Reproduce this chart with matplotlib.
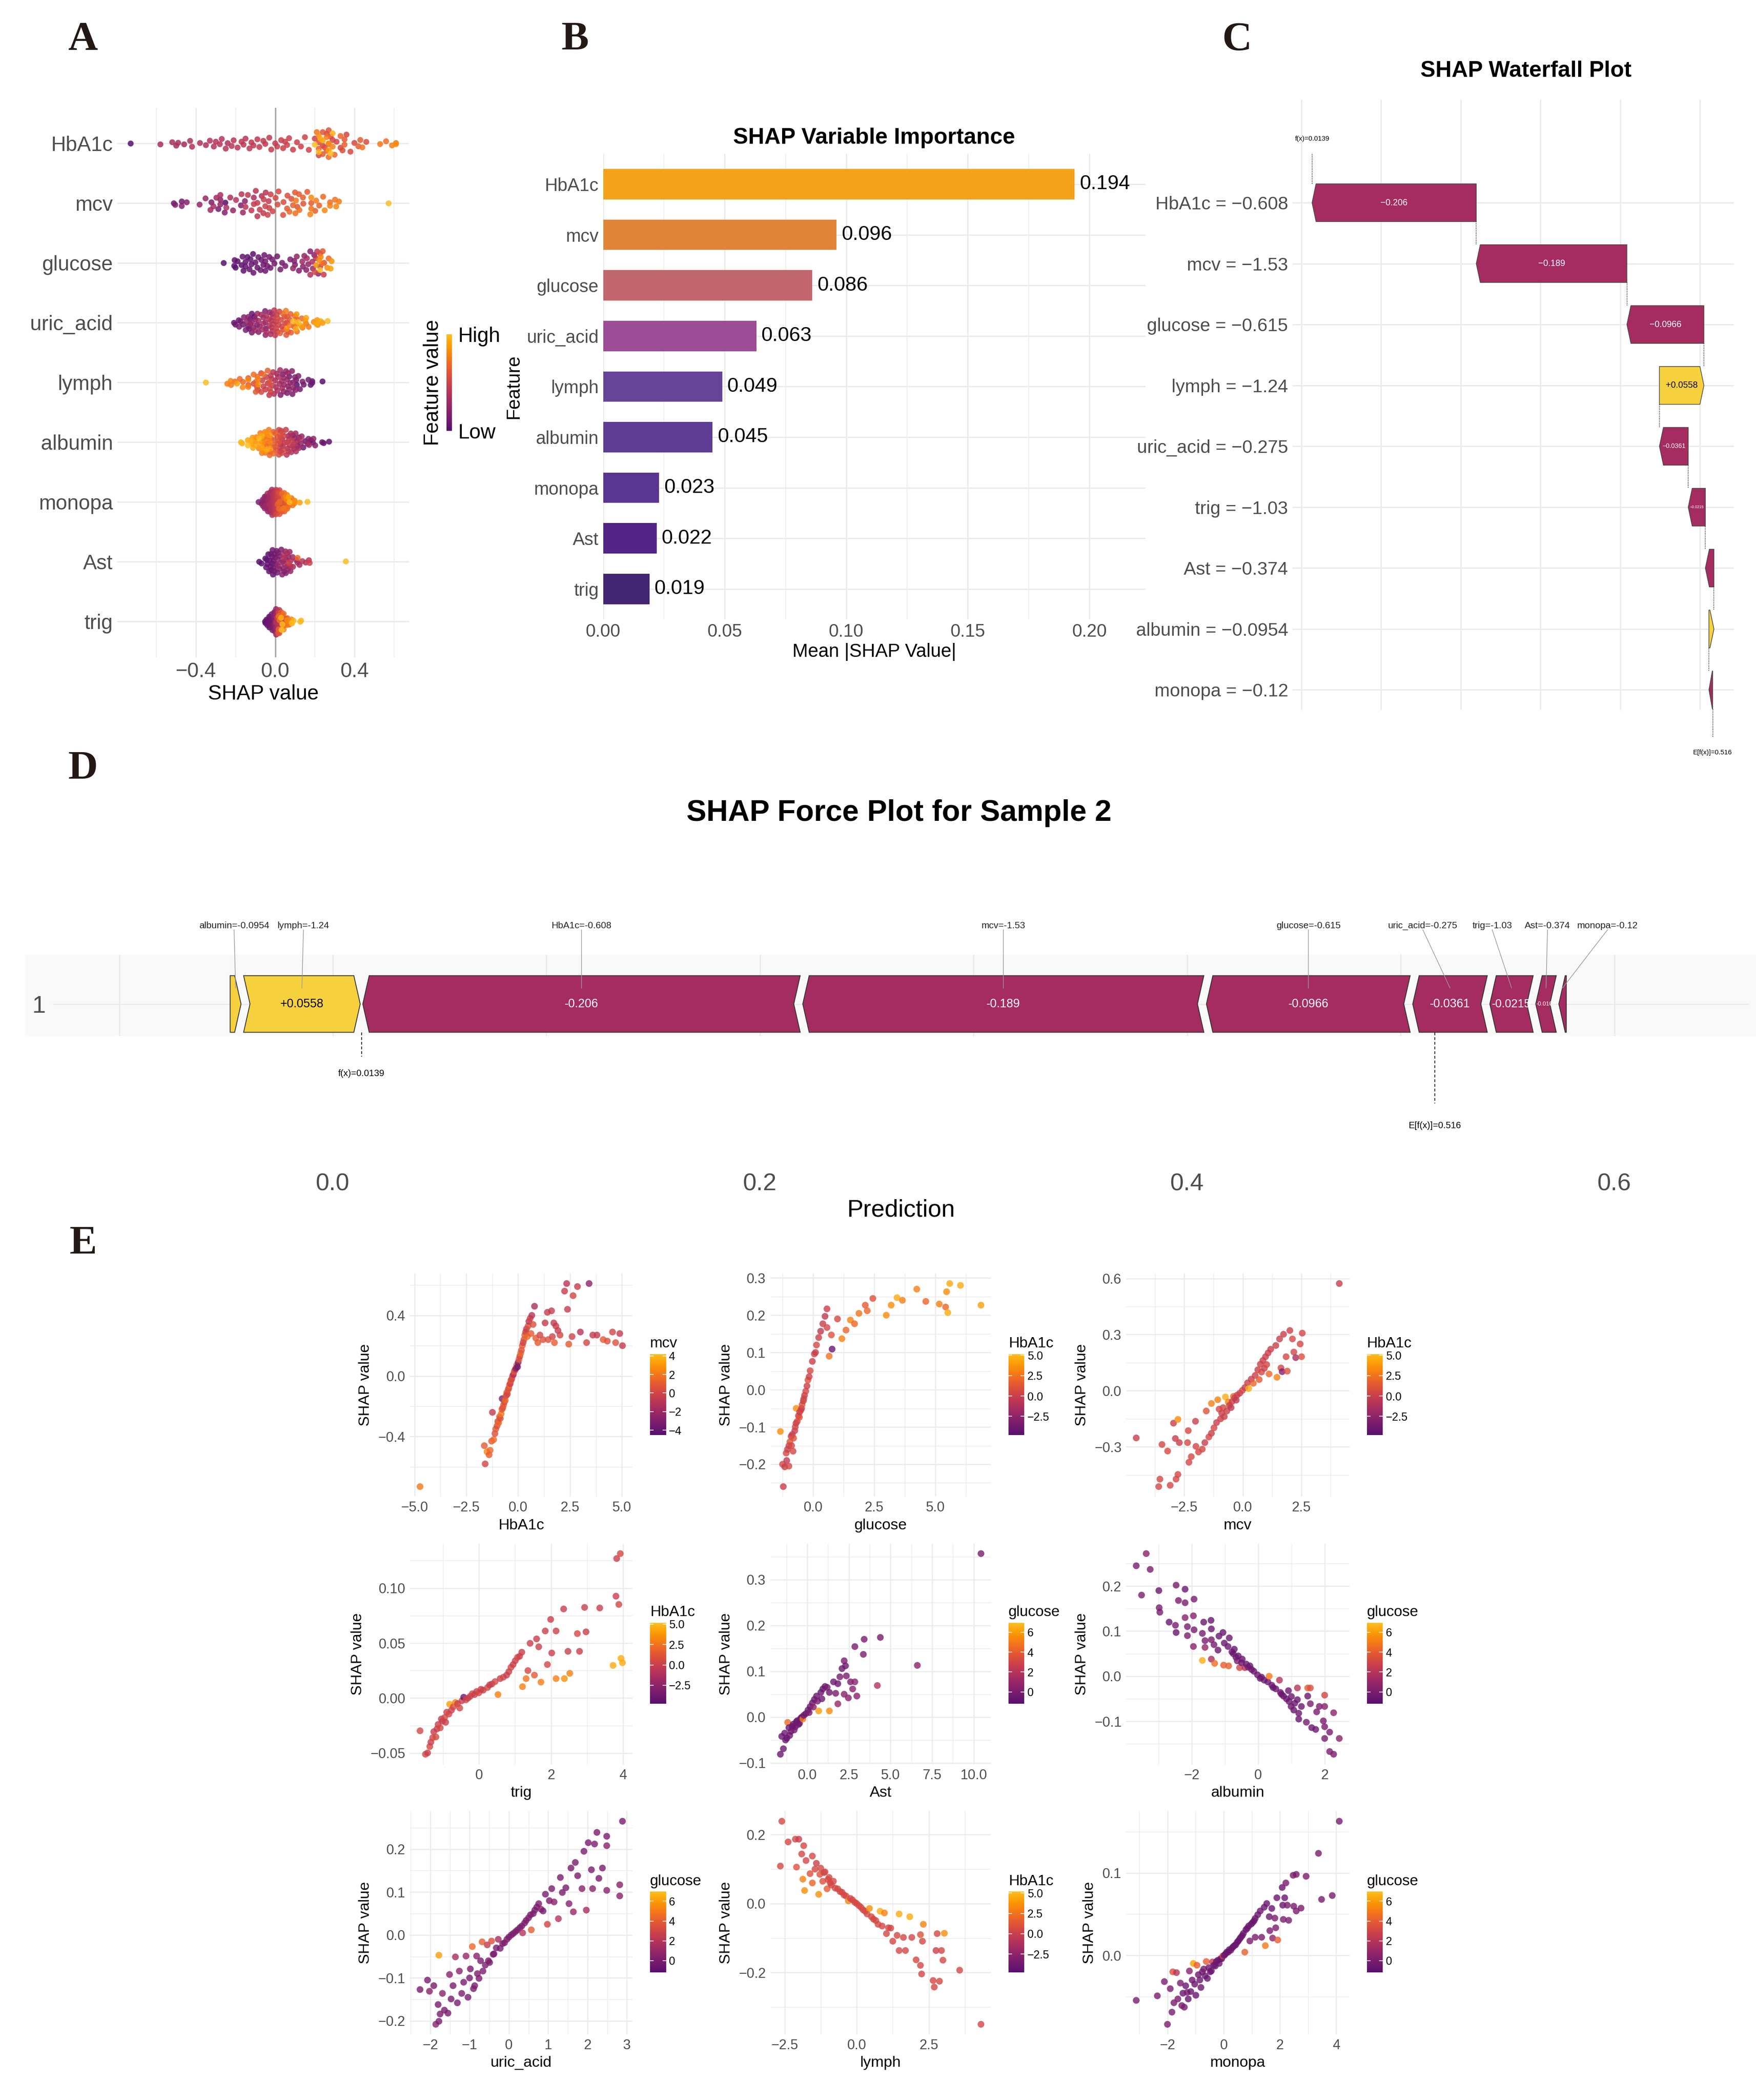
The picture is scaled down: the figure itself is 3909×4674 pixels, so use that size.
import numpy as np
import matplotlib
matplotlib.use("Agg")
import matplotlib.pyplot as plt
from matplotlib.colors import ListedColormap, Normalize
from matplotlib.cm import ScalarMappable
from matplotlib.patches import Polygon, Rectangle

plt.rcParams['font.family'] = ['Liberation Sans', 'DejaVu Sans']

# ---------------- data ----------------
features = ["HbA1c", "mcv", "glucose", "uric_acid", "lymph", "albumin", "monopa", "Ast", "trig"]
mean_abs_shap = [0.194, 0.096, 0.086, 0.063, 0.049, 0.045, 0.023, 0.022, 0.019]
bar_colors = ["#f4a21a", "#e08538", "#c2666e", "#9d4c96", "#664497",
              "#5e3d95", "#583692", "#532385", "#432672"]

# sample 2 (waterfall + force plot), ordered by |SHAP|
wf_features = ["HbA1c", "mcv", "glucose", "lymph", "uric_acid", "trig", "Ast", "albumin", "monopa"]
wf_feature_values = [-0.608, -1.53, -0.615, -1.24, -0.275, -1.03, -0.374, -0.0954, -0.12]
wf_shap = [-0.206, -0.189, -0.0966, 0.0558, -0.0361, -0.0215, -0.0108, 0.0063, -0.0047]
base_value = 0.516
pred_value = 0.0139

# per-feature points: (feature value, SHAP value, value of the colouring feature)
hba1c_pts = [  # colour: mcv
    (-4.73, -0.73, 2.0), (-1.63, -0.46, 1.0), (-1.59, -0.58, 0.0), (-1.50, -0.50, 2.5),
    (-1.40, -0.52, 1.0), (-1.35, -0.49, 1.5), (-1.28, -0.43, 1.0), (-1.24, -0.24, -0.5),
    (-1.18, -0.42, 1.5), (-1.12, -0.38, 0.5), (-1.08, -0.35, 1.0), (-1.02, -0.33, 0.5),
    (-0.98, -0.30, 0.0), (-0.94, -0.31, 1.5), (-0.90, -0.27, 1.0), (-0.86, -0.28, 0.5),
    (-0.82, -0.25, 2.0), (-0.78, -0.22, 1.0), (-0.77, -0.15, -3.0), (-0.74, -0.21, 0.5),
    (-0.70, -0.19, 1.0), (-0.66, -0.17, 0.0), (-0.62, -0.16, 1.5), (-0.58, -0.13, 0.5),
    (-0.55, -0.11, 1.0), (-0.52, -0.12, 0.0), (-0.48, -0.09, 1.0), (-0.45, -0.08, 0.5),
    (-0.42, -0.06, 1.5), (-0.38, -0.05, -0.5), (-0.35, -0.03, 1.0), (-0.31, -0.02, 0.0),
    (-0.27, 0.00, 0.5), (-0.23, 0.01, -1.5), (-0.19, 0.03, 1.0), (-0.15, 0.04, 0.0),
    (-0.11, 0.05, -2.5), (-0.07, 0.07, 0.5), (-0.03, 0.06, -4.0), (0.00, 0.09, -3.0),
    (0.04, 0.11, 1.0), (0.08, 0.13, 0.0), (0.12, 0.15, 1.5), (0.16, 0.17, 0.5),
    (0.20, 0.20, 1.0), (0.24, 0.22, 0.0), (0.28, 0.24, 0.5), (0.32, 0.27, 1.0),
    (0.36, 0.29, 0.0), (0.40, 0.31, -0.5), (0.44, 0.26, 1.5), (0.48, 0.33, 0.5),
    (0.52, 0.36, -1.0), (0.58, 0.38, 0.0), (0.62, 0.28, 1.0), (0.66, 0.40, -1.0),
    (0.72, 0.34, 0.5), (0.79, 0.46, -1.5), (0.85, 0.25, 1.0), (0.95, 0.22, 1.0),
    (1.05, 0.27, 0.0), (1.20, 0.24, 0.5), (1.30, 0.35, -0.5), (1.41, 0.42, -0.5),
    (1.45, 0.24, 0.5), (1.61, 0.43, -0.5), (1.65, 0.26, 0.0), (1.72, 0.35, -0.5),
    (1.75, 0.22, 1.0), (1.82, 0.33, -0.5), (1.92, 0.30, -0.5), (2.02, 0.27, 0.0),
    (2.24, 0.56, -0.5), (2.34, 0.61, -1.0), (2.38, 0.44, -0.5), (2.44, 0.21, 1.0),
    (2.60, 0.26, 0.0), (2.65, 0.53, 0.0), (2.86, 0.59, -0.5), (3.00, 0.29, -1.0),
    (3.30, 0.22, 0.0), (3.42, 0.61, -2.5), (3.60, 0.27, -0.5), (3.80, 0.27, -0.5),
    (4.10, 0.24, 1.0), (4.30, 0.23, 0.5), (4.55, 0.29, 0.0), (4.70, 0.22, 0.5),
    (4.90, 0.28, -0.5), (5.03, 0.20, -0.5),
]
glucose_pts = [  # colour: HbA1c
    (-1.34, -0.112, 3.5), (-1.22, -0.26, 0.0), (-1.25, -0.20, 0.5), (-1.16, -0.207, 0.0),
    (-1.10, -0.17, 0.5), (-1.08, -0.19, -0.5), (-1.05, -0.16, 0.0), (-0.99, -0.205, 0.5),
    (-0.99, -0.15, 0.0), (-0.95, -0.14, 1.0), (-0.90, -0.125, 0.0), (-0.88, -0.15, 0.5),
    (-0.85, -0.12, 0.0), (-0.82, -0.165, 0.5), (-0.80, -0.13, 1.0), (-0.75, -0.11, 0.0),
    (-0.73, -0.10, 0.5), (-0.70, -0.09, 0.0), (-0.69, -0.05, 3.5), (-0.65, -0.085, 0.5),
    (-0.60, -0.07, 0.0), (-0.56, -0.074, 1.0), (-0.55, -0.06, 0.0), (-0.50, -0.055, 0.5),
    (-0.47, -0.05, 0.0), (-0.45, -0.04, 1.0), (-0.40, -0.03, 0.0), (-0.38, -0.024, 0.5),
    (-0.35, -0.015, 0.0), (-0.30, -0.004, 0.5), (-0.25, 0.01, 0.0), (-0.21, 0.026, 1.0),
    (-0.16, 0.035, 0.0), (-0.12, 0.051, 0.5), (-0.03, 0.076, 0.0), (0.05, 0.096, 0.5),
    (0.10, 0.10, 0.0), (0.14, 0.12, 0.5), (0.23, 0.14, 0.0), (0.31, 0.157, -0.5),
    (0.40, 0.177, 0.0), (0.49, 0.197, -0.5), (0.57, 0.217, 0.0), (0.57, 0.167, 0.5),
    (0.66, 0.09, 2.5), (0.75, 0.147, 1.0), (0.78, 0.109, -4.0), (1.00, 0.19, 0.5),
    (1.18, 0.137, 3.0), (1.35, 0.16, 2.0), (1.53, 0.187, 3.0), (1.70, 0.177, 2.0),
    (1.88, 0.205, 2.5), (2.14, 0.227, 1.5), (2.22, 0.212, 2.0), (2.45, 0.245, 1.0),
    (3.00, 0.20, 3.5), (3.20, 0.227, 3.5), (3.44, 0.247, 4.5), (3.66, 0.24, 3.0),
    (4.25, 0.27, 3.0), (4.62, 0.237, 2.0), (5.17, 0.23, 3.0), (5.43, 0.222, 2.0),
    (5.47, 0.263, 3.5), (5.52, 0.207, 4.5), (5.60, 0.285, 4.5), (6.04, 0.28, 4.5),
    (6.88, 0.227, 4.0),
]
mcv_pts = [  # colour: HbA1c
    (-4.55, -0.252, 0.0), (-3.59, -0.512, 0.5), (-3.54, -0.472, 0.5), (-3.45, -0.287, 0.5),
    (-3.21, -0.322, 0.5), (-3.10, -0.505, 0.5), (-2.96, -0.173, 0.0), (-2.88, -0.255, 0.0),
    (-2.85, -0.472, 0.5), (-2.77, -0.447, 0.5), (-2.77, -0.153, 3.5), (-2.71, -0.277, 0.0),
    (-2.36, -0.277, 0.5), (-2.33, -0.213, 0.5), (-2.30, -0.382, 0.5), (-2.20, -0.352, 0.5),
    (-2.02, -0.163, 0.0), (-2.00, -0.297, 0.5), (-1.89, -0.327, 0.5), (-1.73, -0.312, 0.5),
    (-1.62, -0.277, 0.0), (-1.56, -0.108, 1.0), (-1.45, -0.247, 0.5), (-1.34, -0.227, 0.0),
    (-1.34, -0.068, 3.0), (-1.23, -0.198, 0.5), (-1.12, -0.17, 0.0), (-1.07, -0.048, 3.0),
    (-1.01, -0.098, 0.5), (-0.95, -0.15, 0.0), (-0.90, -0.12, 0.0), (-0.84, -0.09, 0.5),
    (-0.79, -0.138, 0.0), (-0.74, -0.033, 4.5), (-0.68, -0.108, 0.0), (-0.62, -0.06, 3.0),
    (-0.57, -0.078, 0.0), (-0.50, -0.09, -0.5), (-0.46, -0.058, 0.0), (-0.40, -0.03, 2.0),
    (-0.35, -0.038, 0.0), (-0.28, -0.05, -0.5), (-0.24, -0.023, 0.0), (-0.13, -0.013, 0.0),
    (-0.02, 0.002, 0.5), (0.09, 0.017, 0.0), (0.20, 0.042, 0.0), (0.25, 0.012, 4.5),
    (0.36, 0.062, 0.0), (0.45, 0.04, 2.0), (0.53, 0.082, 0.0), (0.64, 0.112, 0.0),
    (0.70, 0.06, 1.5), (0.75, 0.142, 0.0), (0.80, 0.10, 0.5), (0.86, 0.162, 0.0),
    (0.92, 0.12, 0.0), (0.97, 0.182, 0.0), (1.02, 0.14, 0.5), (1.08, 0.202, 0.0),
    (1.12, 0.09, 2.0), (1.19, 0.222, 0.0), (1.41, 0.242, 0.0), (1.46, 0.072, 3.0),
    (1.57, 0.277, 0.0), (1.63, 0.122, 0.5), (1.68, 0.102, -3.0), (1.74, 0.302, 0.0),
    (1.85, 0.182, 0.5), (1.90, 0.105, 1.0), (2.01, 0.322, 0.0), (2.12, 0.277, 0.5),
    (2.18, 0.207, 0.5), (2.26, 0.177, -1.5), (2.45, 0.25, 0.5), (2.51, 0.182, 1.0),
    (2.54, 0.308, 0.5), (4.12, 0.573, 0.0),
]
trig_pts = [  # colour: HbA1c
    (-1.63, -0.0297, 0.5), (-1.48, -0.051, 0.5), (-1.42, -0.0498, 0.0), (-1.36, -0.044, 0.5),
    (-1.33, -0.040, 0.0), (-1.28, -0.036, 0.5), (-1.25, -0.0305, 0.0), (-1.19, -0.0353, 0.5),
    (-1.16, -0.028, 0.0), (-1.13, -0.024, 0.0), (-1.07, -0.027, 0.5), (-1.04, -0.019, 0.0),
    (-1.01, -0.021, 0.0), (-0.95, -0.0177, 0.5), (-0.92, -0.022, 0.0), (-0.89, -0.0128, 0.0),
    (-0.83, -0.0145, 0.5), (-0.81, -0.0056, 4.0), (-0.76, -0.011, 0.0), (-0.71, -0.008, 0.5),
    (-0.65, -0.004, 3.0), (-0.59, -0.005, 0.0), (-0.53, -0.009, 0.5), (-0.47, -0.0024, 0.0),
    (-0.42, 0.0008, -4.0), (-0.36, -0.0016, 0.5), (-0.30, 0.0, 0.0), (-0.24, 0.0016, 0.0),
    (-0.18, 0.004, 0.5), (-0.12, 0.0032, 0.0), (-0.06, 0.006, 0.0), (0.00, 0.0048, 0.5),
    (0.06, 0.008, 0.0), (0.12, 0.0072, 0.0), (0.24, 0.0096, 0.5), (0.30, 0.012, 0.0),
    (0.36, 0.0128, 0.0), (0.45, 0.015, 0.5), (0.53, 0.0032, 3.0), (0.59, 0.0177, 0.0),
    (0.68, 0.019, 0.5), (0.77, 0.0209, 0.0), (0.83, 0.024, 0.0), (0.89, 0.028, 0.5),
    (0.95, 0.0305, 0.0), (1.01, 0.034, 0.0), (1.07, 0.037, 0.5), (1.13, 0.038, 0.0),
    (1.19, 0.0417, 0.0), (1.21, 0.0104, 3.0), (1.31, 0.0177, 2.5), (1.36, 0.025, 0.5),
    (1.42, 0.0498, 0.0), (1.54, 0.0209, 1.5), (1.60, 0.0538, 0.0), (1.66, 0.0466, 0.0),
    (1.72, 0.0145, 3.0), (1.84, 0.061, 0.0), (1.90, 0.0305, 0.5), (1.99, 0.0715, 0.0),
    (2.02, 0.041, 0.0), (2.14, 0.061, 0.0), (2.14, 0.0177, 3.0), (2.35, 0.081, 0.0),
    (2.37, 0.0177, 3.5), (2.47, 0.0425, 0.0), (2.52, 0.0225, 3.0), (2.73, 0.0586, 0.5),
    (2.79, 0.0425, 0.0), (2.93, 0.0824, 0.0), (2.97, 0.0602, 0.0), (3.35, 0.0819, 0.0),
    (3.72, 0.0297, 4.5), (3.80, 0.0926, 0.0), (3.82, 0.1268, 0.0), (3.88, 0.0851, 0.5),
    (3.92, 0.1313, 0.5), (3.94, 0.0361, 4.5), (3.98, 0.0321, 4.5),
]
ast_pts = [  # colour: glucose
    (-1.61, -0.081, -0.5), (-1.53, -0.042, -0.5), (-1.43, -0.069, -0.5), (-1.35, -0.035, -0.5),
    (-1.30, -0.05, -0.5), (-1.22, -0.046, -0.5), (-1.17, -0.0115, 4.5), (-1.10, -0.023, -0.5),
    (-1.05, -0.04, -0.5), (-0.97, -0.031, -0.5), (-0.90, -0.02, -0.5), (-0.84, -0.0154, -0.5),
    (-0.78, -0.028, 0.0), (-0.71, -0.021, -0.5), (-0.65, -0.01, -0.5), (-0.59, -0.0077, -0.5),
    (-0.52, -0.016, 0.0), (-0.46, -0.0135, -0.5), (-0.40, -0.003, -0.5), (-0.33, 0.0, -0.5),
    (-0.26, -0.004, 5.0), (-0.20, 0.004, -0.5), (-0.08, 0.0077, -0.5), (0.05, 0.0154, -0.5),
    (0.12, 0.01, 0.0), (0.18, 0.023, -0.5), (0.31, 0.031, -0.5), (0.37, 0.022, 0.5),
    (0.43, 0.0385, -0.5), (0.56, 0.046, -0.5), (0.62, 0.035, 0.0), (0.69, 0.0135, 6.0),
    (0.82, 0.054, -0.5), (0.88, 0.04, -0.5), (0.94, 0.0615, -0.5), (1.07, 0.067, -0.5),
    (1.20, 0.065, 0.0), (1.33, 0.0135, 5.5), (1.33, 0.054, -0.5), (1.58, 0.077, -0.5),
    (1.71, 0.052, 0.0), (1.84, 0.029, 1.0), (1.84, 0.073, -0.5), (1.96, 0.088, 0.0),
    (2.09, 0.106, -0.5), (2.22, 0.123, 0.0), (2.22, 0.05, 0.5), (2.30, 0.112, -0.5),
    (2.35, 0.090, 0.0), (2.47, 0.042, 0.5), (2.60, 0.077, 0.0), (2.73, 0.0615, 0.5),
    (2.86, 0.154, 0.0), (2.86, 0.077, 0.5), (2.98, 0.046, 0.5), (3.37, 0.137, 0.0),
    (3.42, 0.170, 0.0), (4.21, 0.069, 2.0), (4.39, 0.174, 0.0), (6.61, 0.113, 0.5),
    (10.43, 0.357, 0.0),
]
albumin_pts = [  # colour: glucose
    (-3.67, 0.245, 0.0), (-3.37, 0.272, 0.5), (-3.25, 0.237, 0.0), (-3.51, 0.18, 0.0),
    (-2.99, 0.19, -0.5), (-2.98, 0.152, 0.0), (-2.96, 0.142, 0.0), (-2.68, 0.12, -0.5),
    (-2.49, 0.113, 0.0), (-2.47, 0.097, -0.5), (-2.47, 0.202, 0.0), (-2.40, 0.168, 0.0),
    (-2.20, 0.193, -0.5), (-2.20, 0.163, 0.0), (-2.20, 0.130, 0.5), (-2.13, 0.11, 0.0),
    (-2.13, 0.09, 0.0), (-1.93, 0.171, 0.0), (-1.95, 0.134, 0.5), (-1.93, 0.103, 0.0),
    (-1.95, 0.066, 0.5), (-1.68, 0.095, 0.0), (-1.68, 0.035, 6.5), (-1.64, 0.12, -0.5),
    (-1.60, 0.079, 0.0), (-1.60, 0.064, 1.0), (-1.42, 0.124, -0.5), (-1.41, 0.105, -0.5),
    (-1.41, 0.081, 0.0), (-1.41, 0.038, 1.5), (-1.31, 0.0285, 4.5), (-1.33, 0.07, 0.0),
    (-1.21, 0.058, -0.5), (-1.18, 0.089, -0.5), (-1.06, 0.097, -0.5), (-1.04, 0.0246, 4.0),
    (-1.02, 0.0735, -0.5), (-0.91, 0.066, -0.5), (-0.89, 0.023, 4.0), (-0.87, 0.085, -0.5),
    (-0.79, 0.054, -0.5), (-0.75, 0.05, -0.5), (-0.72, 0.06, -0.5), (-0.67, 0.042, -0.5),
    (-0.63, 0.034, 0.0), (-0.60, 0.045, -0.5), (-0.56, 0.019, 3.0), (-0.50, 0.03, -0.5),
    (-0.48, 0.038, -0.5), (-0.40, 0.019, 2.0), (-0.36, 0.027, -0.5), (-0.30, 0.02, 0.0),
    (-0.25, 0.023, -0.5), (-0.20, 0.015, -0.5), (-0.13, 0.011, -0.5), (-0.02, 0.003, -0.5),
    (0.06, -0.0047, -0.5), (0.10, -0.002, -0.5), (0.18, -0.0086, -0.5), (0.29, -0.0125, -0.5),
    (0.33, 0.0, 5.0), (0.41, -0.020, -0.5), (0.45, -0.025, -0.5), (0.53, -0.028, -0.5),
    (0.64, -0.0086, 2.0), (0.67, -0.036, -0.5), (0.70, -0.04, -0.5), (0.76, -0.044, -0.5),
    (0.85, -0.05, -0.5), (0.91, -0.032, -0.5), (0.93, -0.056, -0.5), (0.99, -0.067, -0.5),
    (1.00, -0.045, -0.5), (1.07, -0.075, -0.5), (1.10, -0.06, -0.5), (1.18, -0.026, 2.0),
    (1.18, -0.052, -0.5), (1.22, -0.082, -0.5), (1.22, -0.095, -0.5), (1.30, -0.067, -0.5),
    (1.45, -0.102, 0.0), (1.49, -0.026, 4.0), (1.57, -0.026, 3.5), (1.49, -0.044, -0.5),
    (1.57, -0.061, 0.0), (1.61, -0.114, -0.5), (1.73, -0.118, -0.5), (1.76, -0.079, 0.0),
    (1.84, -0.067, 0.0), (1.96, -0.099, 0.0), (2.00, -0.042, 3.0), (2.00, -0.067, 0.5),
    (2.00, -0.112, 0.0), (2.00, -0.138, 0.0), (2.15, -0.124, 0.0), (2.15, -0.167, 0.0),
    (2.27, -0.081, 0.5), (2.27, -0.173, 0.0), (2.44, -0.138, 0.5),
]
uric_acid_pts = [  # colour: glucose
    (-2.26, -0.127, 0.0), (-2.07, -0.105, 0.0), (-2.02, -0.131, 0.5), (-1.91, -0.118, 0.0),
    (-1.86, -0.208, 0.5), (-1.80, -0.162, 0.0), (-1.78, -0.201, 0.0), (-1.78, -0.047, 6.0),
    (-1.75, -0.184, 0.0), (-1.69, -0.136, 0.5), (-1.64, -0.175, 0.0), (-1.55, -0.182, 0.0),
    (-1.51, -0.092, 0.5), (-1.47, -0.149, 0.0), (-1.42, -0.118, 0.0), (-1.36, -0.051, 1.5),
    (-1.31, -0.158, 0.0), (-1.26, -0.084, 0.5), (-1.20, -0.136, 0.0), (-1.15, -0.110, 0.0),
    (-1.09, -0.049, 1.0), (-1.04, -0.145, 0.0), (-1.00, -0.10, 0.0), (-0.98, -0.079, 0.0),
    (-0.93, -0.027, 4.5), (-0.90, -0.125, 0.0), (-0.87, -0.118, 0.0), (-0.82, -0.049, 0.5),
    (-0.80, -0.09, 0.0), (-0.76, -0.101, 0.0), (-0.72, -0.06, 0.0), (-0.68, -0.016, 4.0),
    (-0.66, -0.084, 0.0), (-0.60, -0.07, 0.0), (-0.55, -0.023, 2.5), (-0.52, -0.06, 0.0),
    (-0.49, -0.064, 0.0), (-0.44, -0.014, 3.5), (-0.40, -0.045, 0.0), (-0.38, -0.044, 0.0),
    (-0.32, -0.03, 0.0), (-0.27, -0.010, 1.5), (-0.22, -0.031, 0.0), (-0.16, -0.02, 0.0),
    (-0.11, -0.018, 0.0), (-0.05, -0.01, 0.0), (0.00, -0.005, 0.0), (0.06, 0.0, 0.0),
    (0.11, 0.0035, 0.0), (0.17, 0.008, 0.0), (0.22, 0.012, 0.0), (0.28, 0.017, 0.0),
    (0.33, 0.021, 0.0), (0.35, 0.005, 2.0), (0.40, 0.028, 0.0), (0.44, 0.034, 0.0),
    (0.50, 0.04, 0.0), (0.55, 0.047, 0.0), (0.57, 0.012, 4.0), (0.62, 0.05, 0.0),
    (0.66, 0.058, 0.0), (0.71, 0.065, 0.0), (0.76, 0.073, 0.0), (0.82, 0.06, 0.5),
    (0.87, 0.056, 0.0), (0.93, 0.095, 0.0), (0.98, 0.025, 3.0), (1.03, 0.08, 0.0),
    (1.09, 0.108, 0.0), (1.15, 0.077, 0.5), (1.26, 0.038, 2.0), (1.31, 0.134, 0.0),
    (1.36, 0.099, 0.0), (1.45, 0.11, 0.0), (1.53, 0.073, 0.5), (1.58, 0.156, 0.0),
    (1.64, 0.054, 1.0), (1.69, 0.169, 0.0), (1.75, 0.138, 0.0), (1.86, 0.108, 0.5),
    (1.91, 0.195, 0.0), (1.97, 0.058, 1.5), (2.02, 0.215, 0.0), (2.10, 0.152, 0.0),
    (2.13, 0.108, 0.5), (2.18, 0.212, 0.0), (2.24, 0.239, 0.0), (2.29, 0.132, 0.0),
    (2.38, 0.156, 0.0), (2.49, 0.230, 0.0), (2.49, 0.208, 0.5), (2.49, 0.104, 0.5),
    (2.82, 0.117, 0.5), (2.82, 0.091, 0.5), (2.89, 0.265, 0.0),
]
lymph_pts = [  # colour: HbA1c
    (-2.65, 0.109, 0.5), (-2.60, 0.239, 0.5), (-2.38, 0.179, 0.5), (-2.13, 0.187, 0.5),
    (-2.09, 0.106, 1.0), (-2.01, 0.187, 0.0), (-1.91, 0.144, 0.5), (-1.87, 0.071, 3.0),
    (-1.84, 0.168, 0.5), (-1.81, 0.038, 3.5), (-1.76, 0.125, 0.5), (-1.62, 0.087, 1.0),
    (-1.54, 0.138, 0.5), (-1.54, 0.060, 2.0), (-1.45, 0.10, 0.5), (-1.40, 0.117, 0.0),
    (-1.32, 0.027, 3.5), (-1.28, 0.085, 1.0), (-1.25, 0.103, 0.5), (-1.18, 0.065, 1.0),
    (-1.14, 0.09, 0.5), (-1.10, 0.092, 0.5), (-1.03, 0.043, 1.5), (-1.00, 0.07, 0.5),
    (-0.96, 0.076, 0.5), (-0.92, 0.06, 0.5), (-0.88, 0.054, 0.5), (-0.81, 0.065, 0.5),
    (-0.75, 0.045, 0.5), (-0.66, 0.043, 0.5), (-0.58, 0.035, 0.5), (-0.51, 0.033, 0.5),
    (-0.44, 0.025, 0.5), (-0.37, 0.022, 0.5), (-0.29, 0.008, 3.0), (-0.22, 0.015, 0.5),
    (-0.15, 0.011, 0.5), (-0.07, 0.004, 0.5), (0.00, 0.0, 0.5), (0.08, -0.006, 0.5),
    (0.15, -0.011, 0.5), (0.22, -0.018, 0.5), (0.29, -0.022, 0.5), (0.36, -0.03, 0.5),
    (0.44, -0.014, 3.5), (0.51, -0.038, 0.5), (0.58, -0.045, 0.5), (0.66, -0.049, 0.5),
    (0.74, -0.06, 0.5), (0.81, -0.022, 4.5), (0.88, -0.065, 0.5), (0.96, -0.027, 3.0),
    (1.03, -0.087, 0.5), (1.10, -0.07, 0.5), (1.18, -0.071, 0.5), (1.25, -0.109, 0.5),
    (1.40, -0.092, 0.5), (1.47, -0.030, 4.5), (1.47, -0.136, 0.5), (1.62, -0.098, 0.5),
    (1.69, -0.136, 0.5), (1.84, -0.038, 4.5), (1.91, -0.098, 0.5), (2.06, -0.163, 0.5),
    (2.21, -0.179, 0.5), (2.21, -0.090, 1.0), (2.25, -0.204, 0.5), (2.28, -0.109, 0.5),
    (2.31, -0.060, 3.0), (2.65, -0.223, 0.5), (2.69, -0.242, 0.5), (2.75, -0.136, 0.0),
    (2.79, -0.087, 0.5), (2.87, -0.225, 0.5), (2.94, -0.136, 0.5), (2.99, -0.164, 0.5),
    (3.04, -0.086, 3.5), (3.57, -0.193, 0.5), (4.31, -0.350, 0.5),
]
monopa_pts = [  # colour: glucose
    (-3.11, -0.0547, 0.0), (-2.36, -0.0492, 0.0), (-2.11, -0.0319, 0.0), (-2.00, -0.0838, 0.0),
    (-1.90, -0.0405, 0.0), (-1.84, -0.069, 0.0), (-1.81, -0.020, 3.5), (-1.77, -0.0576, 0.0),
    (-1.68, -0.021, 2.0), (-1.63, -0.053, 0.0), (-1.54, -0.0337, 0.0), (-1.49, -0.061, 0.0),
    (-1.45, -0.046, -0.5), (-1.40, -0.063, 0.0), (-1.35, -0.037, -0.5), (-1.30, -0.045, 0.0),
    (-1.26, -0.053, -0.5), (-1.22, -0.019, 0.5), (-1.17, -0.044, -0.5), (-1.12, -0.03, -0.5),
    (-1.08, -0.0098, 6.0), (-1.03, -0.035, -0.5), (-0.99, -0.0485, -0.5), (-0.95, -0.012, 4.0),
    (-0.90, -0.0235, -0.5), (-0.85, -0.03, -0.5), (-0.81, -0.039, -0.5), (-0.76, -0.02, -0.5),
    (-0.71, -0.0166, 0.0), (-0.66, -0.025, -0.5), (-0.62, -0.0075, 4.0), (-0.58, -0.028, -0.5),
    (-0.53, -0.015, -0.5), (-0.48, -0.02, -0.5), (-0.44, -0.019, -0.5), (-0.40, -0.008, 2.5),
    (-0.35, -0.012, -0.5), (-0.30, -0.013, -0.5), (-0.26, -0.0075, -0.5), (-0.21, -0.006, -0.5),
    (-0.16, -0.0098, -0.5), (-0.11, -0.004, -0.5), (-0.07, -0.0041, -0.5), (-0.03, -0.0007, 3.0),
    (0.02, 0.0, -0.5), (0.06, 0.0016, -0.5), (0.11, 0.004, -0.5), (0.16, 0.0039, -0.5),
    (0.20, 0.007, -0.5), (0.25, 0.0062, -0.5), (0.30, 0.009, -0.5), (0.34, 0.0107, -0.5),
    (0.39, 0.012, -0.5), (0.43, 0.013, -0.5), (0.48, 0.016, -0.5), (0.52, 0.0175, -0.5),
    (0.57, 0.02, -0.5), (0.61, 0.022, -0.5), (0.66, 0.024, -0.5), (0.70, 0.0267, -0.5),
    (0.75, 0.0039, 4.0), (0.79, 0.0312, -0.5), (0.84, 0.033, -0.5), (0.89, 0.0358, -0.5),
    (0.93, 0.0175, 0.0), (0.98, 0.038, -0.5), (1.03, 0.040, -0.5), (1.08, 0.042, -0.5),
    (1.12, 0.0449, -0.5), (1.12, 0.022, 0.0), (1.21, 0.0494, -0.5), (1.30, 0.054, -0.5),
    (1.35, 0.022, 0.0), (1.44, 0.0585, -0.5), (1.48, 0.0118, 5.0), (1.53, 0.063, -0.5),
    (1.62, 0.047, -0.5), (1.64, 0.030, 0.0), (1.71, 0.057, -0.5), (1.74, 0.021, 0.5),
    (1.82, 0.0453, 0.0), (1.85, 0.0335, 0.0), (1.89, 0.070, -0.5), (1.92, 0.0187, 4.0),
    (2.08, 0.0825, -0.5), (2.10, 0.061, -0.5), (2.12, 0.0437, 0.0), (2.17, 0.070, -0.5),
    (2.21, 0.088, 0.0), (2.26, 0.061, 0.0), (2.31, 0.0426, 0.0), (2.47, 0.0973, 0.0),
    (2.49, 0.0597, 0.0), (2.58, 0.0984, 0.0), (2.58, 0.054, 0.0), (2.75, 0.0574, 0.0),
    (2.93, 0.0961, 0.0), (3.37, 0.124, 0.0), (3.48, 0.068, 0.0), (3.86, 0.0727, 0.0),
    (4.11, 0.163, 0.0),
]

dep_points = {"HbA1c": hba1c_pts, "glucose": glucose_pts, "mcv": mcv_pts,
              "trig": trig_pts, "Ast": ast_pts, "albumin": albumin_pts,
              "uric_acid": uric_acid_pts, "lymph": lymph_pts, "monopa": monopa_pts}
dep_layout = [("HbA1c", "mcv"), ("glucose", "HbA1c"), ("mcv", "HbA1c"),
              ("trig", "HbA1c"), ("Ast", "glucose"), ("albumin", "glucose"),
              ("uric_acid", "glucose"), ("lymph", "HbA1c"), ("monopa", "glucose")]
color_range = {"mcv": (-4.5, 4.2), "HbA1c": (-4.77, 5.16), "glucose": (-1.2, 6.95)}
color_ticks = {"mcv": [-4, -2, 0, 2, 4], "HbA1c": [-2.5, 0, 2.5, 5.0], "glucose": [0, 2, 4, 6]}
color_fmt = {"mcv": "%d", "HbA1c": "%.1f", "glucose": "%d"}
x_ticks = {"HbA1c": [-5, -2.5, 0, 2.5, 5], "glucose": [0, 2.5, 5], "mcv": [-2.5, 0, 2.5],
           "trig": [0, 2, 4], "Ast": [0, 2.5, 5, 7.5, 10], "albumin": [-2, 0, 2],
           "uric_acid": [-2, -1, 0, 1, 2, 3], "lymph": [-2.5, 0, 2.5], "monopa": [-2, 0, 2, 4]}
x_fmt = {"HbA1c": "%.1f", "glucose": "%.1f", "mcv": "%.1f", "trig": "%d", "Ast": "%.1f",
         "albumin": "%d", "uric_acid": "%d", "lymph": "%.1f", "monopa": "%d"}
y_ticks = {"HbA1c": [-0.4, 0, 0.4], "glucose": [-0.2, -0.1, 0, 0.1, 0.2, 0.3],
           "mcv": [-0.3, 0, 0.3, 0.6], "trig": [-0.05, 0, 0.05, 0.10],
           "Ast": [-0.1, 0, 0.1, 0.2, 0.3], "albumin": [-0.1, 0, 0.1, 0.2],
           "uric_acid": [-0.2, -0.1, 0, 0.1, 0.2], "lymph": [-0.2, 0, 0.2], "monopa": [0, 0.1]}

# ---------------- helpers ----------------
W0, H0 = 1313.0, 1570.0          # layout grid of the reference page
FIG_W, FIG_H = 3909 / 300, 4674 / 300
GRID = "#ebebeb"
TXT = "#4d4d4d"
NEG, POS = "#a52c60", "#f7d13d"
cmap = ListedColormap(plt.cm.inferno(np.linspace(0.25, 0.85, 256)))


def box(x0, y0, x1, y1):
    return [x0 / W0, 1 - y1 / H0, (x1 - x0) / W0, (y1 - y0) / H0]


def fmt(f, v):
    return (f % v).replace("-", "\u2212")


def minimal(ax, size, pad=2.4):
    for s in ax.spines.values():
        s.set_visible(False)
    ax.tick_params(which="both", length=0, labelsize=size, labelcolor=TXT, pad=pad)
    ax.set_facecolor("none")
    ax.set_axisbelow(True)


def mids(major, lo, hi):
    step = major[1] - major[0]
    cand = np.arange(major[0] - step / 2, major[-1] + step, step)
    return [c for c in cand if lo <= c <= hi]


def van_der_corput(n, base=2):
    seq = []
    for k in range(1, n + 1):
        x, denom = 0.0, 1.0
        while k:
            k, r = divmod(k, base)
            denom *= base
            x += r / denom
        seq.append(x)
    return np.array(seq)


def bee_offsets(v, half=0.23, adjust=0.8):
    v = np.asarray(v, float)
    n = len(v)
    q75, q25 = np.percentile(v, [75, 25])
    bw = 0.9 * min(v.std(ddof=1), (q75 - q25) / 1.34) * n ** -0.2 * adjust
    dens = np.exp(-0.5 * ((v[:, None] - v[None, :]) / bw) ** 2).sum(axis=1)
    dens = dens / dens.max()
    ranks = np.argsort(np.argsort(v, kind="stable"))
    return (2 * van_der_corput(n)[ranks] - 1) * half * dens


def text_em(s):
    w = {".": 0.278, "-": 0.333, "+": 0.584, "\u2212": 0.584}
    return sum(w.get(ch, 0.556) for ch in s)


def pt_per_unit(ax):
    pos = ax.get_position()
    lo, hi = ax.get_xlim()
    return pos.width * FIG_W * 72 / (hi - lo)


def arrow_poly(a, b, y, half, head, direction, notch=False, flat=False):
    """bar between a<b at height y; direction +1 points right, -1 points left"""
    head = min(head, (b - a) * 0.9)
    top, bot = y + half, y - half
    if direction > 0:
        left_mid = a if (flat or not notch) else a + head
        return [(a, top), (b - head, top), (b, y), (b - head, bot), (a, bot), (left_mid, y)]
    right_mid = b if (flat or not notch) else b - head
    return [(a + head, top), (b, top), (right_mid, y), (b, bot), (a + head, bot), (a, y)]


fig = plt.figure(figsize=(FIG_W, FIG_H), dpi=300)
fig.patch.set_facecolor("white")

for letter, (lx, ly) in zip("ABCDE", [(62, 30), (430, 30), (925, 30), (62, 575), (62, 930)]):
    fig.text(lx / W0, 1 - ly / H0, letter, family="Liberation Serif", weight="bold",
             fontsize=22, color="#231815", ha="center", va="center")

# ---------------- A: beeswarm ----------------
axA = fig.add_axes(box(87.8, 80.5, 306, 491.5))
minimal(axA, 11)
n_feat = len(features)
for i, f in enumerate(features):
    arr = np.array(dep_points[f])
    xv, sv = arr[:, 0], arr[:, 1]
    scaled = (xv - xv.min()) / (xv.max() - xv.min())
    axA.scatter(sv, n_feat - i + bee_offsets(sv), c=scaled, cmap=cmap, vmin=0, vmax=1,
                s=10, alpha=0.85, linewidths=0, zorder=3)
axA.axvline(0, color="#a8a8a8", lw=0.8, zorder=1)
axA.set_ylim(0.4, n_feat + 0.6)
axA.set_yticks(range(n_feat, 0, -1), labels=features)
axA.set_xticks([-0.4, 0, 0.4], labels=[fmt("%.1f", t) for t in [-0.4, 0, 0.4]])
lo, hi = axA.get_xlim()
axA.set_xticks(mids([-0.4, 0, 0.4], lo, hi), minor=True)
axA.set_xlim(lo, hi)
axA.grid(which="major", color=GRID, lw=0.7)
axA.grid(which="minor", axis="x", color=GRID, lw=0.4)
axA.set_xlabel("SHAP value", fontsize=11, labelpad=1.5)

caxA = fig.add_axes(box(334, 250, 338, 322))
cbA = fig.colorbar(ScalarMappable(norm=Normalize(0, 1), cmap=cmap), cax=caxA)
cbA.outline.set_visible(False)
cbA.set_ticks([0, 1], labels=["Low", "High"])
caxA.tick_params(length=0, labelsize=11, pad=3)
cbA.set_label("Feature value", fontsize=11, labelpad=2)
caxA.yaxis.set_label_position("left")

# ---------------- B: importance bars ----------------
axB = fig.add_axes(box(451, 115, 856.5, 463))
minimal(axB, 9.6)
ypos = np.arange(n_feat)[::-1]
axB.barh(ypos, mean_abs_shap, height=0.6, color=bar_colors, zorder=2)
for y, v in zip(ypos, mean_abs_shap):
    axB.text(v + 0.002, y, f"{v:.3f}", va="center", ha="left", fontsize=10.8, color="black")
axB.set_xlim(0, 0.2231)
axB.set_ylim(-0.6, n_feat - 0.4)
axB.set_yticks(ypos, labels=features)
bt = [0, 0.05, 0.10, 0.15, 0.20]
axB.set_xticks(bt, labels=["%.2f" % t for t in bt])
axB.set_xticks(mids(bt, 0, 0.2231), minor=True)
axB.tick_params(axis="x", pad=2)
axB.grid(which="major", color=GRID, lw=0.7)
axB.grid(which="minor", axis="x", color=GRID, lw=0.4)
axB.set_xlabel("Mean |SHAP Value|", fontsize=10, labelpad=1.5)
axB.set_ylabel("Feature", fontsize=10, labelpad=2)
fig.text(653.7 / W0, 1 - 103 / H0, "SHAP Variable Importance", fontsize=12,
         weight="bold", ha="center", va="center")

# ---------------- C: waterfall ----------------
axC = fig.add_axes(box(966.5, 74.6, 1296.7, 530.8))
minimal(axC, 9.8)
nw = len(wf_features)
rows = np.arange(nw, 0, -1)
starts, stops = np.zeros(nw), np.zeros(nw)
cur = base_value
for k in range(nw - 1, -1, -1):
    starts[k] = cur
    cur += wf_shap[k]
    stops[k] = cur
axC.set_xlim(-0.011, 0.543)
axC.set_ylim(0.67, 10.69)
ppu_C = pt_per_unit(axC)
half_C, head_C = 0.31, 0.005
for k in range(nw):
    a, b = sorted((starts[k], stops[k]))
    d = 1 if wf_shap[k] > 0 else -1
    axC.add_patch(Polygon(arrow_poly(a, b, rows[k], half_C, head_C, d), closed=True,
                          facecolor=POS if d > 0 else NEG, edgecolor="#444444", lw=0.35, zorder=3))
    lab = ("+" if d > 0 else "") + ("%.3g" % wf_shap[k])
    lab = lab.replace("-", "\u2212")
    size = min(4.7, 0.82 * (b - a) * ppu_C / text_em(lab))
    if size >= 1.9:
        axC.text((a + b) / 2, rows[k], lab, fontsize=size, ha="center", va="center",
                 color="black" if d > 0 else "white", zorder=4)
for k in range(nw - 1):
    axC.plot([starts[k]] * 2, [rows[k] - half_C, rows[k + 1] + half_C], ls=(0, (1, 1)),
             color="#555555", lw=0.45, zorder=2)
axC.plot([stops[0]] * 2, [rows[0] + half_C, rows[0] + 0.81], ls=(0, (1, 1)), color="#555555", lw=0.45)
axC.text(stops[0], rows[0] + 1.05, "f(x)=%.4f" % pred_value, fontsize=3.6, ha="center", va="center")
axC.plot([base_value] * 2, [rows[-1] - half_C, 0.23], ls=(0, (1, 1)), color="#555555",
         lw=0.45, clip_on=False)
axC.text(base_value, -0.03, "E[f(x)]=%.3f" % base_value, fontsize=3.6, ha="center", va="center")
axC.set_yticks(rows, labels=[f"{f} = " + ("%.3g" % v).replace("-", "\u2212")
                             for f, v in zip(wf_features, wf_feature_values)])
axC.set_xticks([0, 0.2, 0.4], labels=[])
axC.set_xticks([0.1, 0.3, 0.5], minor=True)
axC.grid(which="major", color=GRID, lw=0.7)
axC.grid(which="minor", axis="x", color=GRID, lw=0.7)
fig.text(1141 / W0, 1 - 53 / H0, "SHAP Waterfall Plot", fontsize=12, weight="bold",
         ha="center", va="center")

# ---------------- D: force plot ----------------
fig.add_artist(Rectangle((18.8 / W0, 1 - 774.7 / H0), (W0 - 18.8) / W0, 61 / H0,
                         transform=fig.transFigure, facecolor="#f9f9f9", edgecolor="none", zorder=0))
axD = fig.add_axes(box(39.7, 713.7, 1307.7, 774.7))
minimal(axD, 13)
axD.set_xlim(-0.131, 0.663)
axD.set_ylim(0.598, 1.615)
ppu_D = pt_per_unit(axD)
half_D, head_D, gap_D = 0.353, 0.003, 0.0012
f_end = stops[0]
pos_order = [k for k in np.argsort(-np.abs(wf_shap)) if wf_shap[k] > 0]
neg_order = [k for k in np.argsort(-np.abs(wf_shap)) if wf_shap[k] < 0]
segs = []
cur = f_end
for j, k in enumerate(pos_order):
    segs.append((k, cur - wf_shap[k], cur, 1, j == len(pos_order) - 1))
    cur -= wf_shap[k]
cur = f_end
for j, k in enumerate(neg_order):
    segs.append((k, cur, cur - wf_shap[k], -1, j == len(neg_order) - 1))
    cur -= wf_shap[k]
centers = {}
for k, a, b, d, outer in segs:
    a2, b2 = a + gap_D / 2, b - gap_D / 2
    axD.add_patch(Polygon(arrow_poly(a2, b2, 1, half_D, head_D, d, notch=True, flat=outer),
                          closed=True, facecolor=POS if d > 0 else NEG, edgecolor="#333333",
                          lw=0.45, zorder=3))
    centers[k] = (a + b) / 2
    lab = ("+" if d > 0 else "") + ("%.3g" % wf_shap[k])
    size = min(6.4, 0.85 * (b - a) * ppu_D / text_em(lab))
    if size >= 1.9:
        axD.text((a + b) / 2, 1, lab, fontsize=size, ha="center", va="center",
                 color="black" if d > 0 else "white", zorder=4)

# feature labels above the bar, spread apart like a repel layout
keys = list(centers.keys())
labels_D = {k: f"{wf_features[k]}=" + ("%.3g" % wf_feature_values[k]) for k in keys}
widths = np.array([len(labels_D[k]) * 0.5 * 5.0 / ppu_D for k in keys])
lab_x = np.array([centers[k] for k in keys], float)
order = np.argsort(lab_x)
for _ in range(400):
    moved = False
    for p, q in zip(order[:-1], order[1:]):
        need = (widths[p] + widths[q]) / 2 + 0.004
        gap = lab_x[q] - lab_x[p]
        if gap < need:
            lab_x[p] -= (need - gap) / 2
            lab_x[q] += (need - gap) / 2
            moved = True
    if not moved:
        break
for k, lx in zip(keys, lab_x):
    axD.text(lx, 1.977, labels_D[k], fontsize=5, ha="center", va="center", color="#222222")
    axD.plot([lx, centers[k]], [1.925, 1.2], color="#9a9a9a", lw=0.35, clip_on=False, zorder=5)
axD.plot([f_end] * 2, [1 - half_D, 0.343], ls=(0, (3, 2)), color="#333333", lw=0.5, clip_on=False)
axD.text(f_end, 0.13, "f(x)=%.4f" % pred_value, fontsize=4.9, ha="center", va="center")
axD.plot([base_value] * 2, [1 - half_D, -0.24], ls=(0, (3, 2)), color="#333333", lw=0.5, clip_on=False)
axD.text(base_value, -0.52, "E[f(x)]=%.3f" % base_value, fontsize=4.9, ha="center", va="center")
axD.set_yticks([1], labels=["1"])
dt = [0, 0.2, 0.4, 0.6]
axD.set_xticks(dt, labels=["%.1f" % t for t in dt])
axD.set_xticks([-0.1, 0.1, 0.3, 0.5], minor=True)
axD.tick_params(axis="x", pad=73)
axD.tick_params(axis="y", pad=4)
axD.grid(which="major", color=GRID, lw=0.7)
axD.grid(which="minor", axis="x", color=GRID, lw=0.7)
axD.set_xlabel("Prediction", fontsize=13)
axD.xaxis.set_label_coords(0.5, -1.997)
fig.text(672 / W0, 1 - 608 / H0, "SHAP Force Plot for Sample 2", fontsize=16, weight="bold",
         ha="center", va="center")

# ---------------- E: dependence plots ----------------
col_x = [(306.5, 473.0), (576.0, 741.0), (842.0, 1009.0)]
row_y = [(952.0, 1119.0), (1154.0, 1319.0), (1354.0, 1521.0)]
for idx, (feat, cfeat) in enumerate(dep_layout):
    r, c = divmod(idx, 3)
    x0, x1 = col_x[c]
    y0, y1 = row_y[r]
    ax = fig.add_axes(box(x0, y0, x1, y1))
    minimal(ax, 7.4)
    arr = np.array(dep_points[feat])
    norm = Normalize(*color_range[cfeat])
    ax.scatter(arr[:, 0], arr[:, 1], c=arr[:, 2], cmap=cmap, norm=norm, s=13, alpha=0.8,
               linewidths=0, zorder=3)
    ax.margins(0.05)
    ax.autoscale_view()
    xl, yl = ax.get_xlim(), ax.get_ylim()
    xt, yt = x_ticks[feat], y_ticks[feat]
    ax.set_xticks(xt, labels=[fmt(x_fmt[feat], t) for t in xt])
    ax.set_yticks(yt, labels=[fmt("%.2f" if feat == "trig" else "%.1f", t) for t in yt])
    ax.set_xticks(mids(xt, *xl), minor=True)
    ax.set_yticks(mids(yt, *yl), minor=True)
    ax.set_xlim(xl)
    ax.set_ylim(yl)
    ax.grid(which="major", color=GRID, lw=0.6)
    ax.grid(which="minor", color=GRID, lw=0.35)
    ax.set_xlabel(feat, fontsize=8.2, labelpad=2)
    ax.set_ylabel("SHAP value", fontsize=8.2, labelpad=3)

    cy = (y0 + y1) / 2 + 7
    cax = fig.add_axes(box(x1 + 13, cy - 30.25, x1 + 25, cy + 30.25))
    cb = fig.colorbar(ScalarMappable(norm=norm, cmap=cmap), cax=cax)
    cb.outline.set_visible(False)
    ct = color_ticks[cfeat]
    cb.set_ticks(ct, labels=[fmt(color_fmt[cfeat], t) for t in ct])
    cax.tick_params(length=2, width=0.4, color="white", direction="in", labelsize=6,
                    pad=1.5, left=True)
    cax.set_title(cfeat, loc="left", fontsize=8, pad=3.5)

fig.savefig("out.png", dpi=300, facecolor="white")
